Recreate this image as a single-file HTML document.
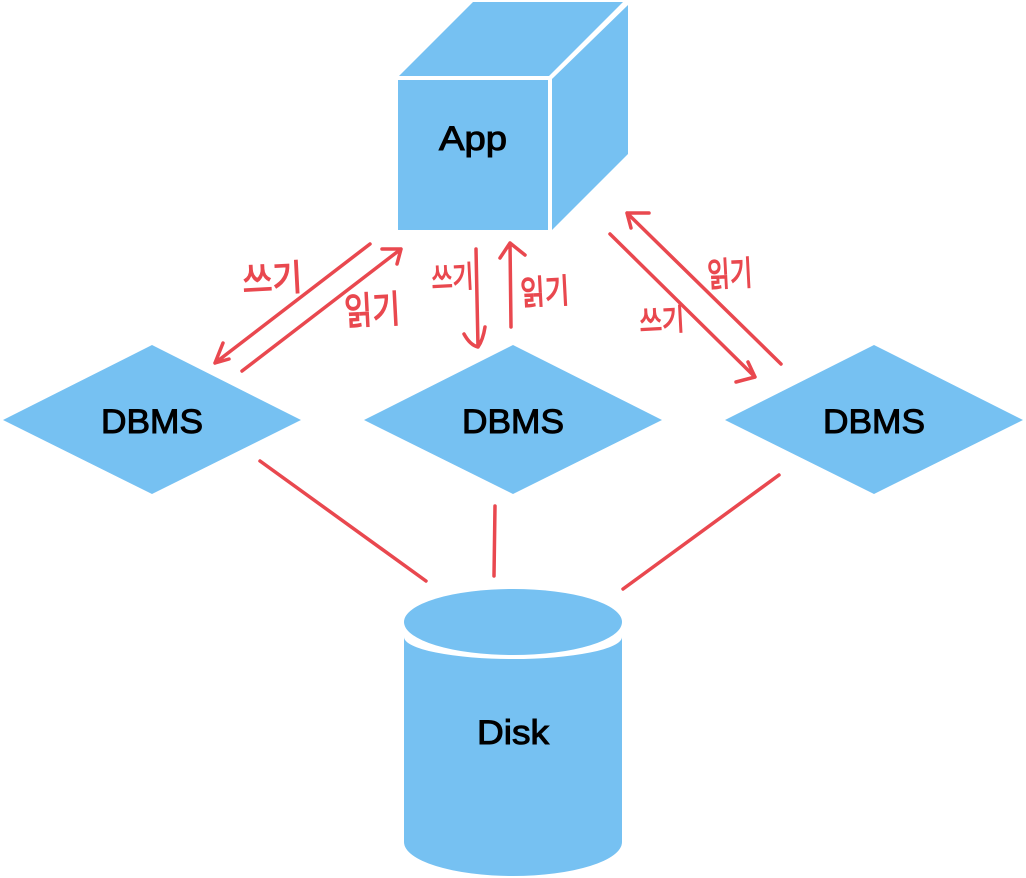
<!DOCTYPE html>
<html>
<head>
<meta charset="utf-8">
<style>
html,body{margin:0;padding:0;background:#fff;width:1026px;height:878px;overflow:hidden}
svg{display:block}
.lbl{font-family:"Liberation Sans",sans-serif;font-size:34px;fill:#000;stroke:#000;stroke-width:1px}
.hw{font-family:"Liberation Sans","Noto Sans CJK KR","NanumGothic",sans-serif;fill:#e9484f;stroke:#e9484f;stroke-width:1.2px}
.ln{fill:none;stroke:#e9484f;stroke-width:3.5;stroke-linecap:round;stroke-linejoin:round}
</style>
</head>
<body>
<svg width="1026" height="878" viewBox="0 0 1026 878" xmlns="http://www.w3.org/2000/svg">
<rect width="1026" height="878" fill="#fff"/>
<g fill="#76c1f2">
<rect x="398" y="80" width="150" height="150"/>
<polygon points="399,76 473,2 623,2 549,76"/>
<polygon points="552,79 628,5 628,154 552,230"/>
<polygon points="3,420 152,345 301,420 152,494"/>
<polygon points="364,420 513,345 662,420 513,494"/>
<polygon points="725,420 874,345 1023,420 874,494"/>
<ellipse cx="513" cy="622" rx="109" ry="33"/>
<path d="M404,637 A109,22 0 0 0 622,637 L622,842 A109,34 0 0 1 404,842 Z"/>
</g>
<text class="lbl" x="439" y="150" textLength="68" lengthAdjust="spacingAndGlyphs">App</text>
<text class="lbl" x="101" y="433" textLength="102" lengthAdjust="spacingAndGlyphs">DBMS</text>
<text class="lbl" x="462" y="433" textLength="102" lengthAdjust="spacingAndGlyphs">DBMS</text>
<text class="lbl" x="823" y="433" textLength="102" lengthAdjust="spacingAndGlyphs">DBMS</text>
<text class="lbl" x="477" y="744" textLength="72" lengthAdjust="spacingAndGlyphs">Disk</text>
<g class="ln">
<path d="M370,244 L215,363 M223,343 L215,363 L229,359"/>
<path d="M242,371 L401,249 M382,249 L401,249 L397,264"/>
<path d="M476,249 L478,347 M464,334 Q470,345 478,347 Q483,340 485,327"/>
<path d="M511,327 L510,243 M500,258 L510,243 L525,255"/>
<path d="M610,234 L755,377 M748,362 L755,377 L736,382"/>
<path d="M781,364 L627,213 M649,213 L627,213 L631,228"/>
<path d="M260,461 L426,581"/>
<path d="M495,506 L494,576"/>
<path d="M779,475 L623,589"/>
</g>
<text class="hw" font-size="36" transform="translate(243,293) rotate(-3)" textLength="60" lengthAdjust="spacingAndGlyphs">쓰기</text>
<text class="hw" font-size="38" transform="translate(345,325) rotate(-3)" textLength="56" lengthAdjust="spacingAndGlyphs">읽기</text>
<text class="hw" font-size="30" transform="translate(432,289) rotate(-3)" textLength="42" lengthAdjust="spacingAndGlyphs">쓰기</text>
<text class="hw" font-size="34" transform="translate(521,305) rotate(-3)" textLength="49" lengthAdjust="spacingAndGlyphs">읽기</text>
<text class="hw" font-size="34" transform="translate(708,287) rotate(-3)" textLength="45" lengthAdjust="spacingAndGlyphs">읽기</text>
<text class="hw" font-size="30" transform="translate(640,332) rotate(-3)" textLength="45" lengthAdjust="spacingAndGlyphs">쓰기</text>
</svg>
</body>
</html>
